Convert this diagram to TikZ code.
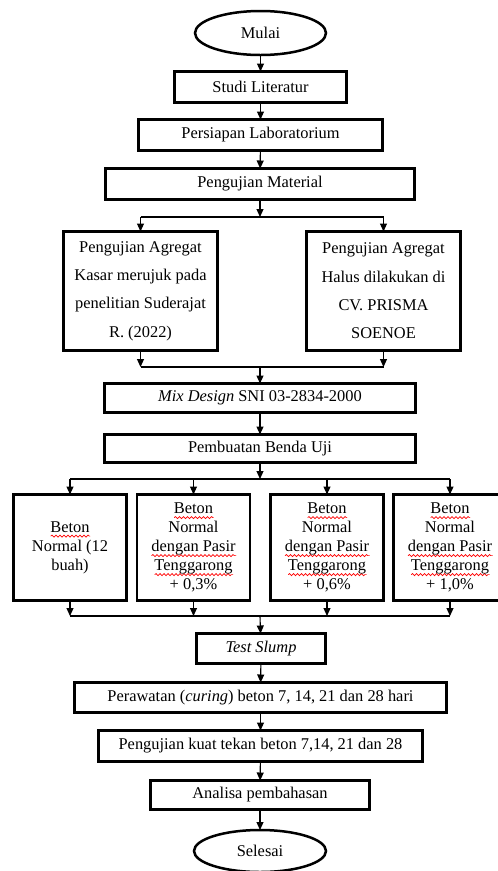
\documentclass[tikz,border=0pt]{standalone}
\usepackage{fontspec}
\setmainfont{Liberation Serif}
\usetikzlibrary{arrows.meta,shapes.geometric,decorations.pathmorphing}
\newsavebox\sqbox
\newlength\sqlen
\newcommand\sqw[1]{\sbox\sqbox{#1}\setlength\sqlen{\wd\sqbox}\rlap{\raisebox{-4pt}{\tikz[baseline=0pt]\draw[red,line width=0.7pt,line cap=round,decorate,decoration={snake,amplitude=1.1pt,segment length=4pt}] (0pt,0pt) -- (\sqlen,0pt);}}\usebox\sqbox}
\begin{document}
\begin{tikzpicture}[x=1pt,y=-1pt,
 box/.style={draw, line width=2.8pt, rectangle, inner sep=0pt, outer sep=0pt, align=center, font=\fontsize{16.4}{28.3}\selectfont},
 sbox/.style={box, font=\fontsize{16.4}{19}\selectfont, minimum width=113pt, minimum height=106pt},
 oval/.style={draw, ellipse, line width=2.5pt, inner sep=0pt, outer sep=0pt, font=\fontsize{16.4}{19}\selectfont},
 arr/.style={line width=1.1pt, -{Triangle[length=8pt,width=7pt]}},
 ln/.style={line width=1.1pt}]
\useasboundingbox[fill=white] (0,0) rectangle (498,871);

\node[oval, minimum width=131pt, minimum height=44pt] (mulai) at (260.5,33) {Mulai};
\node[box, minimum width=172pt, minimum height=31pt] (studi) at (260.5,87) {Studi Literatur};
\node[box, minimum width=244pt, minimum height=31pt] (persiapan) at (260.5,135) {Persiapan Laboratorium};
\node[box, minimum width=309pt, minimum height=31pt] (material) at (260,184) {Pengujian Material};
\node[box, minimum width=154pt, minimum height=119pt] (kasar) at (140.5,291) {Pengujian Agregat\\Kasar merujuk pada\\penelitian Suderajat\\R. (2022)};
\node[box, minimum width=154pt, minimum height=119pt] (halus) at (383.5,291) {Pengujian Agregat\\Halus dilakukan di\\CV. PRISMA\\SOENOE};
\node[box, minimum width=311pt, minimum height=29pt] (mix) at (260,398) {\textit{Mix Design} SNI 03-2834-2000};
\node[box, minimum width=311pt, minimum height=28pt] (pembuatan) at (260,448.5) {Pembuatan Benda Uji};
\node[sbox] (b1) at (70,547.5) {\sqw{Beton}\\Normal (12\\buah)};
\node[sbox] (b2) at (193.5,547.5) {\sqw{Beton}\\Normal\\\sqw{dengan Pasir}\\\sqw{Tenggarong}\\+ 0,3\%};
\node[sbox] (b3) at (327,547.5) {\sqw{Beton}\\Normal\\\sqw{dengan Pasir}\\\sqw{Tenggarong}\\+ 0,6\%};
\node[sbox] (b4) at (450,547.5) {\sqw{Beton}\\Normal\\\sqw{dengan Pasir}\\\sqw{Tenggarong}\\+ 1,0\%};
\node[box, minimum width=129pt, minimum height=30pt] (slump) at (261,648.5) {\textit{Test Slump}};
\node[box, minimum width=372pt, minimum height=30pt] (perawatan) at (260.5,697.5) {Perawatan (\textit{curing}) beton 7, 14, 21 dan 28 hari};
\node[box, minimum width=324pt, minimum height=31pt] (kuat) at (260.5,746) {Pengujian kuat tekan beton 7,14, 21 dan 28};
\node[box, minimum width=219pt, minimum height=29pt] (analisa) at (260,795) {Analisa pembahasan};
\node[oval, minimum width=132pt, minimum height=42pt] (selesai) at (260,851) {Selesai};

\coordinate (s1) at (260,217);
\coordinate (s1L) at (kasar.north |- s1);
\coordinate (s1R) at (halus.north |- s1);
\coordinate (s2) at (260,367);
\coordinate (s2L) at (kasar.south |- s2);
\coordinate (s2R) at (halus.south |- s2);
\coordinate (s3) at (260,479);
\coordinate (s3a) at (b1.north |- s3);
\coordinate (s3d) at (b4.north |- s3);
\coordinate (s4) at (260,616);
\coordinate (s4a) at (b1.south |- s4);
\coordinate (s4d) at (b4.south |- s4);

\draw[arr] (mulai) -- (studi);
\draw[arr] (studi) -- (persiapan);
\draw[arr] (persiapan) -- (material);
\draw[arr] (material) -- (s1);
\draw[ln] (s1L) -- (s1R);
\draw[arr] (s1L) -- (kasar);
\draw[arr] (s1R) -- (halus);
\draw[arr] (kasar) -- (s2L);
\draw[arr] (halus) -- (s2R);
\draw[ln] (s2L) -- (s2R);
\draw[arr] (s2) -- (mix);
\draw[arr] (mix) -- (pembuatan);
\draw[arr] (pembuatan) -- (s3);
\draw[ln] (s3a) -- (s3d);
\foreach \b in {b1,b2,b3,b4} {
  \draw[arr] (\b.north |- s3) -- (\b.north);
  \draw[arr] (\b.south) -- (\b.south |- s4);
}
\draw[ln] (s4a) -- (s4d);
\draw[arr] (s4) -- (slump);
\draw[arr] (slump) -- (perawatan);
\draw[arr] (perawatan) -- (kuat);
\draw[arr] (kuat) -- (analisa);
\draw[arr] (analisa) -- (selesai);
\end{tikzpicture}
\end{document}
